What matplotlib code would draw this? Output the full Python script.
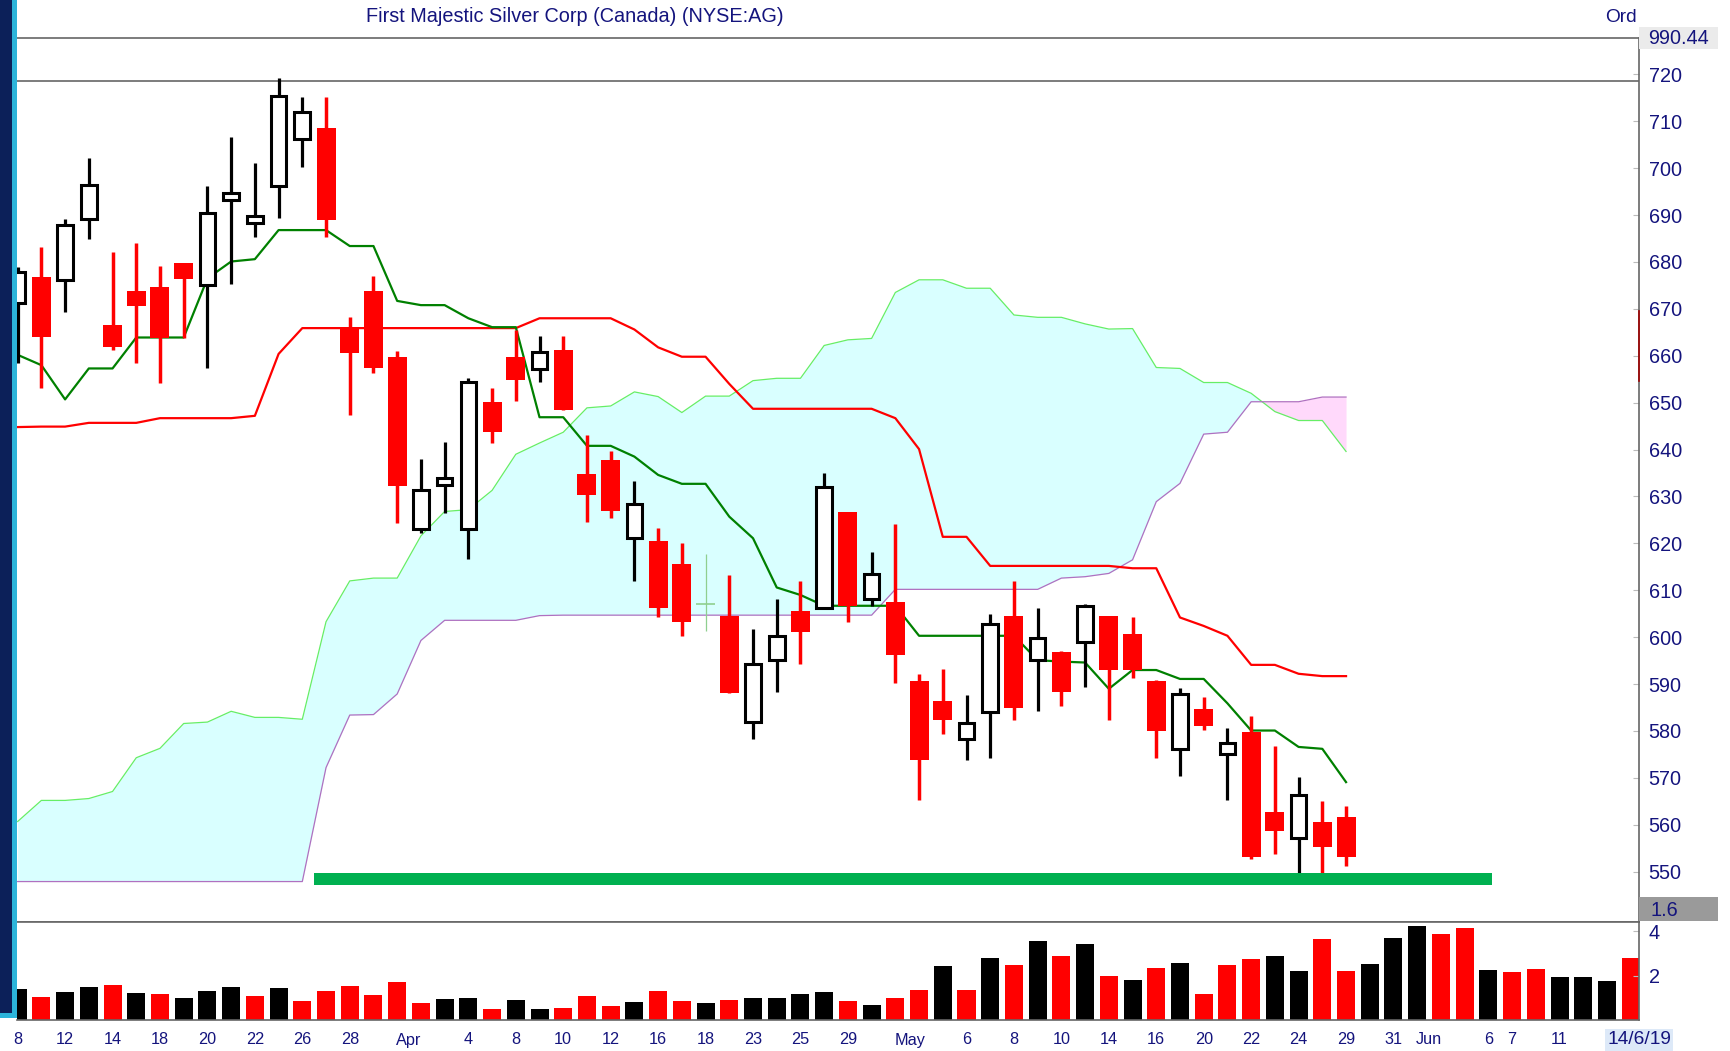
import matplotlib
matplotlib.use("Agg")
import matplotlib.pyplot as plt
from matplotlib.patches import Rectangle
from matplotlib.transforms import blended_transform_factory

plt.rcParams['font.family'] = ['Liberation Sans', 'DejaVu Sans']

# ---- data ----
title = 'First Majestic Silver Corp (Canada) (NYSE:AG)'

opens = [671.2, 676.7, 676.2, 689.2, 666.6, 673.8, 674.6, 679.7, 675.1, 693.2,
         688.3, 696.2, 706.2, 708.6, 665.9, 673.8, 659.7, 623.0, 632.5, 623.0,
         650.2, 659.7, 657.2, 661.2, 634.7, 637.8, 621.1, 620.6, 615.6, 607.1,
         604.6, 582.0, 595.1, 605.6, 606.2, 626.6, 608.1, 607.6, 590.7, 586.5,
         578.2, 584.1, 604.6, 595.1, 596.8, 599.0, 604.6, 600.7, 590.7, 576.1,
         584.7, 575.2, 579.7, 562.7, 557.1, 560.7, 561.6]
highs = [679.0, 683.3, 689.2, 702.1, 682.2, 684.1, 679.1, 679.8, 696.2, 706.7,
         701.2, 719.2, 715.1, 715.1, 668.2, 677.1, 661.1, 638.1, 641.7, 655.2,
         653.1, 665.4, 664.2, 664.2, 643.1, 639.7, 633.2, 623.2, 620.1, 617.7,
         613.3, 601.7, 608.1, 612.0, 635.1, 626.6, 618.1, 624.1, 592.1, 593.2,
         587.7, 604.9, 612.0, 606.2, 597.1, 607.1, 604.6, 604.2, 590.9, 589.1,
         587.2, 580.7, 583.3, 576.7, 570.1, 565.1, 564.1]
lows = [658.4, 653.2, 669.3, 684.8, 661.2, 658.4, 654.3, 663.7, 657.3, 675.3,
        685.4, 689.4, 700.3, 685.4, 647.4, 656.3, 624.3, 622.3, 626.4, 616.6,
        641.3, 650.4, 654.5, 648.4, 624.6, 625.4, 612.0, 604.2, 600.3, 601.4,
        588.2, 578.2, 588.3, 594.3, 606.2, 603.3, 606.7, 590.3, 565.3, 579.3,
        573.8, 574.2, 582.3, 584.3, 585.3, 589.3, 582.3, 591.2, 574.2, 570.3,
        580.2, 565.3, 552.7, 553.8, 549.8, 549.8, 551.3]
closes = [677.9, 663.9, 687.9, 696.4, 661.8, 670.7, 663.7, 676.3, 690.4, 694.8,
          689.8, 715.4, 711.9, 689.0, 660.7, 657.3, 632.2, 631.4, 634.0, 654.5,
          643.8, 654.8, 660.9, 648.4, 630.3, 626.8, 628.3, 606.2, 603.3, 607.1,
          588.2, 594.3, 600.3, 601.2, 632.0, 606.7, 613.5, 596.2, 573.8, 582.3,
          581.8, 602.8, 584.8, 599.8, 588.3, 606.7, 593.0, 593.0, 579.9, 587.9,
          581.1, 577.4, 553.2, 558.7, 566.4, 555.3, 553.2]

tenkan = [660.2, 658.0, 650.7, 657.3, 657.3, 663.9, 663.9, 663.9, 676.5, 680.1,
          680.6, 686.8, 686.8, 686.8, 683.4, 683.4, 671.7, 670.8, 670.8, 668.0,
          666.1, 666.1, 646.9, 646.9, 640.8, 640.8, 638.5, 634.6, 632.7, 632.7,
          625.7, 621.1, 610.6, 609.0, 606.7, 606.7, 606.7, 606.7, 600.3, 600.3,
          600.3, 600.3, 600.3, 595.1, 594.8, 594.6, 589.0, 593.0, 593.0, 591.1,
          591.1, 585.9, 580.1, 580.1, 576.6, 576.2, 569.1]
kijun = [644.8, 644.9, 644.9, 645.7, 645.7, 645.7, 646.7, 646.7, 646.7, 646.7,
         647.2, 660.4, 665.9, 665.9, 665.9, 665.9, 665.9, 665.9, 665.9, 665.9,
         665.9, 665.9, 668.0, 668.0, 668.0, 668.0, 665.6, 661.8, 659.8, 659.8,
         654.0, 648.7, 648.7, 648.7, 648.7, 648.7, 648.7, 646.7, 640.1, 621.4,
         621.4, 615.2, 615.2, 615.2, 615.2, 615.2, 615.2, 614.7, 614.7, 604.2,
         602.4, 600.3, 594.1, 594.1, 592.2, 591.7, 591.7]
span_a = [560.7, 565.2, 565.2, 565.6, 567.1, 574.3, 576.3, 581.6, 581.9, 584.2,
          582.9, 582.9, 582.5, 603.3, 612.0, 612.6, 612.6, 621.6, 626.8, 627.2,
          631.3, 639.0, 641.4, 643.7, 648.9, 649.3, 652.3, 651.3, 647.9, 651.4,
          651.4, 654.7, 655.2, 655.2, 662.2, 663.4, 663.7, 673.5, 676.2, 676.2,
          674.4, 674.4, 668.7, 668.2, 668.2, 666.8, 665.7, 665.8, 657.5, 657.3,
          654.3, 654.3, 652.0, 648.1, 646.2, 646.2, 639.6]
span_b = [547.9, 547.9, 547.9, 547.9, 547.9, 547.9, 547.9, 547.9, 547.9, 547.9,
          547.9, 547.9, 547.9, 572.2, 583.4, 583.5, 587.9, 599.3, 603.6, 603.6,
          603.6, 603.6, 604.6, 604.7, 604.7, 604.7, 604.7, 604.7, 604.7, 604.7,
          604.7, 604.7, 604.7, 604.7, 604.7, 604.7, 604.7, 610.2, 610.2, 610.2,
          610.2, 610.2, 610.2, 610.2, 612.6, 612.9, 613.6, 616.5, 628.9, 632.8,
          643.3, 643.7, 650.2, 650.2, 650.2, 651.2, 651.2]

volume = [1.38, 1.04, 1.28, 1.50, 1.56, 1.23, 1.16, 0.98, 1.31, 1.49,
          1.07, 1.46, 0.84, 1.31, 1.53, 1.11, 1.72, 0.75, 0.96, 1.01,
          0.48, 0.89, 0.51, 0.53, 1.10, 0.63, 0.83, 1.31, 0.86, 0.78,
          0.90, 1.01, 0.98, 1.19, 1.28, 0.86, 0.66, 1.01, 1.34, 2.42,
          1.37, 2.81, 2.47, 3.57, 2.89, 3.42, 1.99, 1.82, 2.34, 2.59,
          1.16, 2.48, 2.74, 2.89, 2.21, 3.64, 2.21, 2.53, 3.69, 4.24,
          3.87, 4.17, 2.26, 2.18, 2.29, 1.96, 1.96, 1.76, 2.81]
vol_up = [1, 0, 1, 1, 0, 1, 0, 1, 1, 1,
          0, 1, 0, 0, 0, 0, 0, 0, 1, 1,
          0, 1, 1, 0, 0, 0, 1, 0, 0, 1,
          0, 1, 1, 1, 1, 0, 1, 0, 0, 1,
          0, 1, 0, 1, 0, 1, 0, 1, 0, 1,
          0, 0, 0, 1, 1, 0, 0, 1, 1, 1,
          0, 0, 1, 0, 0, 1, 1, 1, 0]

date_idx = [0, 2, 4, 6, 8, 10, 12, 14, 16, 19, 21, 23, 25, 27, 29, 31, 33, 35,
            37, 40, 42, 44, 46, 48, 50, 52, 54, 56, 58, 59, 62, 63, 65]
date_lbl = ['8', '12', '14', '18', '20', '22', '26', '28', 'Apr', '4', '8', '10',
            '12', '16', '18', '23', '25', '29', 'May', '6', '8', '10', '14', '16',
            '20', '22', '24', '29', '31', 'Jun', '6', '7', '11']
last_date = '14/6/19'

price_ticks = list(range(550, 721, 10))
vol_ticks = [2, 4]

support_level = (547.2, 549.7)     # thick green support band
support_span = (12.5, 62.17)
upper_sep = 718.6                  # panel separator line
side_marker = (654.7, 669.6)       # small red mark on the price scale
top_value = '990.44'
vol_value = '1.6'

# ---- figure layout (pixels of the 1730x1051 image) ----
W, H = 1730, 1051
NAVY = '#14147d'
GRID = '#666666'

fig = plt.figure(figsize=(W / 100, H / 100), dpi=100)
fig.patch.set_facecolor('white')

def fx(px):
    return px / W

def fy(py):
    return 1 - py / H

left_px, right_px = 16.8, 1639
ax = fig.add_axes([fx(left_px), fy(921.7), fx(right_px - left_px), (921.7 - 37.7) / H])
axv = fig.add_axes([fx(left_px), fy(1020), fx(right_px - left_px), (1020 - 921.7) / H])

n = len(closes)
x = list(range(n))
xlim = (-0.036, 68.35)

# cloud
ax.fill_between(x, span_a, span_b, where=[a >= b for a, b in zip(span_a, span_b)],
                interpolate=True, color='#d9ffff', lw=0, zorder=1)
ax.fill_between(x, span_a, span_b, where=[a < b for a, b in zip(span_a, span_b)],
                interpolate=True, color='#ffd9fb', lw=0, zorder=1)
ax.plot(x, span_a, color='#66ee66', lw=0.9, zorder=2)
ax.plot(x, span_b, color='#b070c0', lw=0.9, zorder=2)
ax.plot(x, kijun, color='#ff0000', lw=1.6, zorder=3)
ax.plot(x, tenkan, color='#008000', lw=1.6, zorder=3)

# candles
for i in range(n):
    o, h, l, c = opens[i], highs[i], lows[i], closes[i]
    if c > o:
        ax.vlines(i, l, h, color='black', lw=2.3, zorder=4)
        ax.bar(i, c - o, bottom=o, width=0.66, facecolor='white', edgecolor='black',
               linewidth=2.2, zorder=5)
    elif c < o:
        ax.vlines(i, l, h, color='#ff0000', lw=2.5, zorder=4)
        ax.bar(i, o - c, bottom=c, width=0.8, color='#ff0000', linewidth=0, zorder=5)
    else:
        ax.vlines(i, l, h, color='#8fcf8f', lw=0.9, zorder=4)
        ax.hlines(o, i - 0.4, i + 0.4, color='#8fcf8f', lw=1.2, zorder=4)

# support band
ax.fill_between(support_span, support_level[0], support_level[1], color='#00b050',
                lw=0, zorder=6)
ax.axhline(upper_sep, color=GRID, lw=1.2, zorder=2)
ax.plot([xlim[1], xlim[1]], side_marker, color='#a00000', lw=1.2, clip_on=False, zorder=7)

ax.set_xlim(*xlim)
ax.set_ylim(539.34, 727.82)
ax.set_xticks([])
ax.yaxis.tick_right()
ax.set_yticks(price_ticks)
ax.set_yticklabels([str(v) for v in price_ticks])
ax.tick_params(axis='y', direction='in', length=4, color='#bbbbbb', pad=7,
               labelsize=14.3, labelcolor=NAVY)
for s in ['left']:
    ax.spines[s].set_visible(False)
for s in ['top', 'bottom', 'right']:
    ax.spines[s].set_color(GRID)
    ax.spines[s].set_linewidth(1.2)

# volume
vcols = ['black' if u else '#ff0000' for u in vol_up]
axv.bar(range(len(volume)), volume, width=0.76, color=vcols, linewidth=0)
axv.set_xlim(*xlim)
axv.set_ylim(0, 4.438)
axv.set_xticks([])
axv.yaxis.tick_right()
axv.set_yticks(vol_ticks)
axv.set_yticklabels([str(v) for v in vol_ticks])
axv.tick_params(axis='y', direction='in', length=4, color='#bbbbbb', pad=7,
                labelsize=14.3, labelcolor=NAVY)
axv.spines['left'].set_visible(False)
for s in ['top', 'bottom', 'right']:
    axv.spines[s].set_color(GRID)
    axv.spines[s].set_linewidth(1.2)

# date labels
tr = blended_transform_factory(axv.transData, fig.transFigure)
for i, lbl in zip(date_idx, date_lbl):
    ha = 'left' if lbl.isalpha() else 'center'
    xo = i - 0.05 if ha == 'left' else i
    axv.text(xo, fy(1040), lbl, transform=tr, ha=ha, va='center', fontsize=11.7,
             color=NAVY, clip_on=False)
axv.text(xlim[1], fy(1040), last_date, transform=tr, ha='center', va='center',
         fontsize=13.8, color=NAVY, clip_on=False,
         bbox=dict(boxstyle='square,pad=0.12', facecolor='#dde9f8', edgecolor='none'))

# left frame bars
fig.patches.append(Rectangle((0, fy(1013)), fx(11.5), 1013 / H, transform=fig.transFigure,
                             facecolor='#0c2059', edgecolor='none', zorder=10))
fig.patches.append(Rectangle((fx(11.5), fy(1017.5)), fx(5.3), 1017.5 / H,
                             transform=fig.transFigure, facecolor='#2cb4da',
                             edgecolor='none', zorder=10))
fig.patches.append(Rectangle((0, fy(1017.5)), fx(16.8), 4.8 / H, transform=fig.transFigure,
                             facecolor='#2cb4da', edgecolor='none', zorder=10))

# value boxes on the scale
fig.patches.append(Rectangle((fx(1639), fy(49.3)), fx(79), 22.6 / H, transform=fig.transFigure,
                             facecolor='#ebebeb', edgecolor='none', zorder=1))
fig.text(fx(1648), fy(38), top_value, ha='left', va='center', fontsize=14.3, color=NAVY)
fig.patches.append(Rectangle((fx(1639), fy(920.7)), fx(79), 23.7 / H, transform=fig.transFigure,
                             facecolor='#9a9a9a', edgecolor='none', zorder=1))
fig.text(fx(1650), fy(910), vol_value, ha='left', va='center', fontsize=14.3, color=NAVY)

# title and corner label
fig.text(fx(574.5), fy(16.5), title, ha='center', va='center', fontsize=14.3, color=NAVY)
fig.text(fx(1637), fy(17), 'Ord', ha='right', va='center', fontsize=13.8, color=NAVY)

fig.savefig('out.png', dpi=100)
